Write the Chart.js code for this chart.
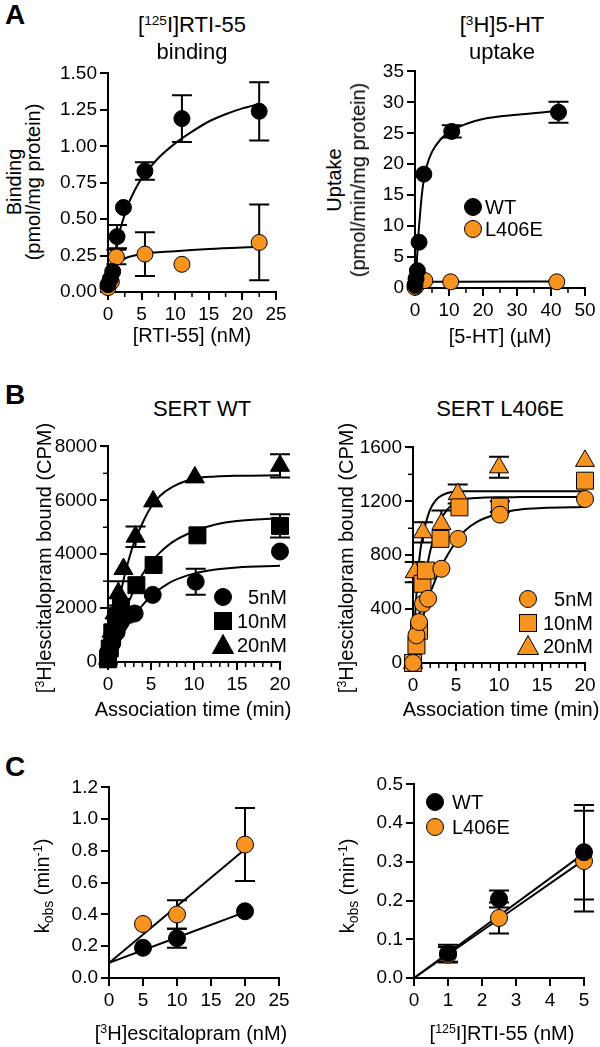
<!DOCTYPE html>
<html>
<head>
<meta charset="utf-8">
<script src="https://cdn.jsdelivr.net/npm/chart.js@4"></script>
<style>
body{margin:0;width:600px;height:1047px;position:relative;overflow:hidden;background:#fff;font-family:"Liberation Sans",Arial,sans-serif;color:#000}
canvas{position:absolute}
.t{position:absolute;white-space:nowrap;line-height:1;z-index:2}
sup{font-size:0.62em;vertical-align:0.55em;line-height:0}
sub{font-size:0.7em;vertical-align:-0.25em;line-height:0}
svg{position:absolute;z-index:2}
</style>
</head>
<body>
<script>
// ---- A: [125I]RTI-55 binding
var bindWtX = [0, 0.35, 0.7, 1.35, 2.3, 5.5, 11, 22.5];
var bindWtY = [0.05, 0.09, 0.14, 0.38, 0.58, 0.83, 1.19, 1.24];
var bindWtErr = [0, 0, 0, 0.08, 0, 0.06, 0.16, 0.2];
var bindMutX = [0, 0.5, 1.25, 5.5, 11, 22.5];
var bindMutY = [0.03, 0.07, 0.24, 0.26, 0.19, 0.34];
var bindMutErr = [0, 0, 0.05, 0.15, 0, 0.26];
var bindWtFitX = [0, 0.5, 1, 1.5, 2, 3, 4, 5, 6, 7.5, 10, 12.5, 15, 17.5, 20, 22.5];
var bindWtFitY = [0, 0.12, 0.26, 0.37, 0.46, 0.6, 0.7, 0.78, 0.84, 0.92, 1.02, 1.1, 1.17, 1.22, 1.26, 1.29];
var bindMutFitX = [0, 0.5, 1, 1.5, 2.5, 5, 10, 15, 22.5];
var bindMutFitY = [0, 0.1, 0.17, 0.2, 0.23, 0.26, 0.28, 0.295, 0.31];

// ---- A: [3H]5-HT uptake
var upWtX = [0, 0.3, 0.7, 1.2, 2.6, 10.8, 42.2];
var upWtY = [0.5, 1.5, 2.8, 7.4, 18.4, 25.3, 28.4];
var upWtErr = [0, 0, 0, 0, 0, 1.0, 1.7];
var upMutX = [0, 0.3, 0.7, 2.9, 10.5, 41.7];
var upMutY = [0.1, 0.3, 0.6, 1.2, 1.0, 1.0];
var upWtFitX = [0, 0.5, 1, 1.5, 2, 2.6, 3.5, 5, 7.5, 10, 15, 20, 30, 42];
var upWtFitY = [0, 4, 8.5, 12, 15, 17.5, 19.8, 22, 24, 25.2, 26.5, 27.3, 28, 28.6];
var upMutFitX = [0, 0.5, 1, 3, 10, 42];
var upMutFitY = [0, 0.6, 0.85, 1.0, 1.03, 1.05];

// ---- B: SERT WT association
var wt5X = [0, 0.2, 0.5, 1, 1.5, 2.5, 3.1, 5.2, 10.2, 20];
var wt5Y = [100, 350, 700, 1100, 1500, 1750, 1800, 2490, 2980, 4100];
var wt5Err = [0, 0, 0, 0, 0, 0, 0, 0, 480, 0];
var wt10X = [0, 0.2, 0.5, 1, 1.5, 3.3, 5.3, 10.4, 20];
var wt10Y = [100, 500, 1100, 1700, 2050, 2850, 3600, 4700, 5050];
var wt10Err = [0, 0, 0, 0, 0, 0, 0, 0, 430];
var wt20X = [0, 0.1, 0.4, 0.75, 1.2, 1.8, 3.2, 5.25, 10.1, 20];
var wt20Y = [120, 620, 1120, 1800, 2550, 3450, 4650, 5960, 6850, 7280];
var wt20Err = [0, 0, 0, 0, 450, 0, 380, 0, 0, 430];
var fitTimeX = [0, 0.5, 1, 1.5, 2, 3, 4, 5, 6, 7.5, 10, 12.5, 15, 20];
var wt5FitY = [0, 300, 600, 900, 1200, 1700, 2100, 2450, 2700, 3000, 3280, 3430, 3510, 3570];
var wt10FitY = [0, 500, 1000, 1450, 1900, 2650, 3250, 3700, 4050, 4450, 4850, 5100, 5230, 5330];
var wt20FitY = [0, 900, 1800, 2600, 3300, 4400, 5150, 5750, 6150, 6500, 6800, 6880, 6910, 6930];

// ---- B: SERT L406E association
var mut5X = [0, 0.4, 0.7, 1.16, 1.75, 3.3, 5.24, 10.1, 20];
var mut5Y = [0, 205, 304, 440, 477, 699, 921, 1101, 1217];
var mut10X = [0, 0.4, 0.7, 1.1, 1.5, 3.2, 5.4, 10.1, 20];
var mut10Y = [0, 130, 240, 588, 686, 921, 1155, 1160, 1353];
var mut10Err = [0, 0, 0, 0, 0, 0, 0, 40, 0];
var mut20X = [0, 0.2, 1.15, 3.3, 5.2, 10, 20];
var mut20Y = [0, 674, 970, 1032, 1254, 1452, 1500];
var mut20Err = [0, 75, 75, 100, 70, 78, 0];
var mutFitX = [0, 0.25, 0.5, 0.75, 1, 1.5, 2, 2.5, 3, 4, 5, 6, 7.5, 10, 12.5, 15, 20];
var mut5FitY = [0, 80, 160, 230, 300, 420, 520, 600, 680, 800, 900, 980, 1050, 1110, 1140, 1150, 1157];
var mut10FitY = [0, 130, 250, 370, 480, 670, 830, 950, 1040, 1140, 1195, 1215, 1225, 1230, 1231, 1232, 1232];
var mut20FitY = [0, 350, 600, 780, 900, 1040, 1140, 1195, 1230, 1262, 1272, 1274, 1275, 1275, 1275, 1275, 1275];

// ---- C: kobs vs [3H]escitalopram
var konEscX = [5, 10, 20];
var konEscWtY = [0.19, 0.25, 0.42];
var konEscWtErr = [0, 0.06, 0];
var konEscMutY = [0.34, 0.40, 0.84];
var konEscMutErr = [0, 0.09, 0.23];
var konEscFitX = [0, 20];
var konEscWtFitY = [0.095, 0.415];
var konEscMutFitY = [0.095, 0.81];

// ---- C: kobs vs [125I]RTI-55
var konRtiX = [1, 2.5, 5];
var konRtiWtY = [0.064, 0.204, 0.325];
var konRtiWtErr = [0.022, 0.022, 0.122];
var konRtiMutY = [0.06, 0.155, 0.302];
var konRtiMutErr = [0.02, 0.04, 0.13];
var konRtiFitX = [0, 5];
var konRtiWtFitY = [0, 0.322];
var konRtiMutFitY = [0, 0.305];

var ORANGE = '#F7931E';
var FONT = '"Liberation Sans", Arial, sans-serif';

function pts(xs, ys) {
    return xs.map(function (x, i) { return { x: x, y: ys[i] }; });
}
function marks(xs, ys, errs, style, fill, r, order) {
    return {
        data: pts(xs, ys), errs: errs, pointStyle: style, pointRadius: r, pointHoverRadius: r,
        backgroundColor: fill, borderColor: '#000', borderWidth: 1, showLine: false, clip: false, order: order
    };
}
function fit(xs, ys) {
    return {
        data: pts(xs, ys), showLine: true, pointRadius: 0, borderColor: '#000', borderWidth: 2,
        cubicInterpolationMode: 'monotone', fill: false, clip: false, order: 10
    };
}

// error bars drawn under the markers
var errorBars = {
    id: 'errorBars',
    beforeDatasetsDraw: function (chart) {
        var ctx = chart.ctx, xs = chart.scales.x, ys = chart.scales.y;
        ctx.save();
        ctx.strokeStyle = '#000';
        ctx.lineWidth = 2;
        chart.data.datasets.forEach(function (ds) {
            if (!ds.errs) return;
            ds.data.forEach(function (p, j) {
                var e = ds.errs[j];
                if (!e) return;
                var x = xs.getPixelForValue(p.x);
                var y1 = ys.getPixelForValue(p.y - e), y2 = ys.getPixelForValue(p.y + e);
                ctx.beginPath();
                ctx.moveTo(x, y1); ctx.lineTo(x, y2);
                ctx.moveTo(x - 10, y1); ctx.lineTo(x + 10, y1);
                ctx.moveTo(x - 10, y2); ctx.lineTo(x + 10, y2);
                ctx.stroke();
            });
        });
        ctx.restore();
    }
};

function minorTicks(mx, my) {
    return {
        id: 'minorTicks',
        beforeDatasetsDraw: function (chart) {
            var ctx = chart.ctx, a = chart.chartArea;
            ctx.save();
            ctx.strokeStyle = '#000';
            ctx.lineWidth = 1.5;
            [['x', mx], ['y', my]].forEach(function (k) {
                if (!k[1]) return;
                var s = chart.scales[k[0]];
                for (var v = s.min; v <= s.max + 1e-9; v += k[1]) {
                    var p = s.getPixelForValue(v);
                    ctx.beginPath();
                    if (k[0] === 'x') { ctx.moveTo(p, a.bottom); ctx.lineTo(p, a.bottom + 5); }
                    else { ctx.moveTo(a.left, p); ctx.lineTo(a.left - 5, p); }
                    ctx.stroke();
                }
            });
            ctx.restore();
        }
    };
}

var YW = 64, XH = 46, PT = 14, PR = 20;

function axis(o) {
    return {
        type: 'linear', min: o.min, max: o.max,
        afterFit: function (s) { if (s.isHorizontal()) s.height = XH; else s.width = YW; },
        border: { display: true, color: '#000', width: 2 },
        grid: { drawOnChartArea: false, drawTicks: true, tickLength: 8, lineWidth: 2, color: '#000' },
        ticks: {
            stepSize: o.step, autoSkip: false, maxRotation: 0, padding: 3, color: '#000',
            font: { family: FONT, size: 19 },
            callback: function (v) { return o.dec ? v.toFixed(o.dec) : String(v); }
        }
    };
}

// area = plot box [left, top, right, bottom] in page pixels
function panel(area, datasets, xo, yo) {
    var cv = document.createElement('canvas');
    var w = area[2] - area[0] + YW + PR, h = area[3] - area[1] + PT + XH;
    cv.width = w; cv.height = h;
    cv.style.left = (area[0] - YW) + 'px';
    cv.style.top = (area[1] - PT) + 'px';
    document.body.appendChild(cv);
    return new Chart(cv, {
        type: 'scatter',
        data: { datasets: datasets },
        options: {
            responsive: false, animation: false, devicePixelRatio: 1,
            layout: { padding: { top: PT, right: PR, left: 0, bottom: 0 } },
            plugins: { legend: { display: false }, tooltip: { enabled: false } },
            scales: { x: axis(xo), y: axis(yo) }
        },
        plugins: [errorBars, minorTicks(xo.minor, yo.minor)]
    });
}

function txt(html, x, y, size, mode, bold) {
    var d = document.createElement('div');
    d.className = 't';
    d.innerHTML = html;
    d.style.left = x + 'px';
    d.style.top = y + 'px';
    d.style.fontSize = size + 'px';
    if (bold) d.style.fontWeight = 'bold';
    var tr = { c: 'translate(-50%,-50%)', l: 'translate(0,-50%)', r: 'translate(-100%,-50%)', v: 'translate(-50%,-50%) rotate(-90deg)' };
    d.style.transform = tr[mode || 'c'];
    document.body.appendChild(d);
}

function mark(shape, fill, cx, cy) {
    var inner;
    if (shape === 'circle') inner = '<circle cx="12" cy="12" r="8.5"/>';
    else if (shape === 'rect') inner = '<rect x="3.5" y="3.5" width="17" height="17"/>';
    else inner = '<polygon points="12,1.5 22.5,20.5 1.5,20.5"/>';
    var s = '<svg width="24" height="24" style="left:' + (cx - 12) + 'px;top:' + (cy - 12) + 'px">' +
        '<g fill="' + fill + '" stroke="#000" stroke-width="1">' + inner + '</g></svg>';
    document.body.insertAdjacentHTML('beforeend', s);
}

// ---------- panels
panel([108, 73, 276, 292], [
    marks(bindWtX, bindWtY, bindWtErr, 'circle', '#000', 8, 0),
    marks(bindMutX, bindMutY, bindMutErr, 'circle', ORANGE, 8, 1),
    fit(bindWtFitX, bindWtFitY),
    fit(bindMutFitX, bindMutFitY)
], { min: 0, max: 25, step: 5, minor: 2.5 }, { min: 0, max: 1.5, step: 0.25, dec: 2 });

panel([415, 71, 585, 288], [
    marks(upWtX, upWtY, upWtErr, 'circle', '#000', 8, 0),
    marks(upMutX, upMutY, null, 'circle', ORANGE, 8, 1),
    fit(upWtFitX, upWtFitY),
    fit(upMutFitX, upMutFitY)
], { min: 0, max: 50, step: 10, minor: 5 }, { min: 0, max: 35, step: 5 });

panel([108, 446, 280, 662], [
    marks(wt5X, wt5Y, wt5Err, 'circle', '#000', 8.5, 0),
    marks(wt10X, wt10Y, wt10Err, 'rect', '#000', 12, 1),
    marks(wt20X, wt20Y, wt20Err, 'triangle', '#000', 11, 2),
    fit(fitTimeX, wt5FitY),
    fit(fitTimeX, wt10FitY),
    fit(fitTimeX, wt20FitY)
], { min: 0, max: 20, step: 5, minor: 1 }, { min: 0, max: 8000, step: 2000, minor: 1000 });

panel([413, 447, 585, 663], [
    marks(mut5X, mut5Y, null, 'circle', ORANGE, 8.5, 0),
    marks(mut10X, mut10Y, mut10Err, 'rect', ORANGE, 12, 1),
    marks(mut20X, mut20Y, mut20Err, 'triangle', ORANGE, 11, 2),
    fit(mutFitX, mut5FitY),
    fit(mutFitX, mut10FitY),
    fit(mutFitX, mut20FitY)
], { min: 0, max: 20, step: 5, minor: 1 }, { min: 0, max: 1600, step: 400, minor: 200 });

panel([109, 787, 279, 978], [
    marks(konEscX, konEscWtY, konEscWtErr, 'circle', '#000', 8.5, 0),
    marks(konEscX, konEscMutY, konEscMutErr, 'circle', ORANGE, 8.5, 1),
    fit(konEscFitX, konEscWtFitY),
    fit(konEscFitX, konEscMutFitY)
], { min: 0, max: 25, step: 5 }, { min: 0, max: 1.2, step: 0.2, dec: 1 });

panel([414, 784, 584, 978], [
    marks(konRtiX, konRtiWtY, konRtiWtErr, 'circle', '#000', 8.5, 0),
    marks(konRtiX, konRtiMutY, konRtiMutErr, 'circle', ORANGE, 8.5, 1),
    fit(konRtiFitX, konRtiWtFitY),
    fit(konRtiFitX, konRtiMutFitY)
], { min: 0, max: 5, step: 1 }, { min: 0, max: 0.5, step: 0.1, dec: 1 });

// ---------- text
txt('A', 15, 15, 28, 'c', true);
txt('[<sup>125</sup>I]RTI-55', 192, 25, 22);
txt('binding', 192, 52, 22);
txt('[<sup>3</sup>H]5-HT', 502, 25, 22);
txt('uptake', 502, 52, 22);
txt('Binding', 14, 182, 20, 'v');
txt('(pmol/mg protein)', 33, 182, 20, 'v');
txt('Uptake', 334, 180, 20, 'v');
txt('(pmol/min/mg protein)', 358, 180, 20, 'v');
txt('[RTI-55] (nM)', 192, 335, 20);
txt('[5-HT] (\u00b5M)', 500, 336, 20);
mark('circle', '#000', 473, 207); txt('WT', 485, 207, 20, 'l');
mark('circle', ORANGE, 473, 229); txt('L406E', 485, 229, 20, 'l');

txt('B', 15, 395, 28, 'c', true);
txt('SERT WT', 202, 409, 22);
txt('SERT L406E', 500, 409, 22);
txt('[<sup>3</sup>H]escitalopram bound (CPM)', 44, 558, 20, 'v');
txt('[<sup>3</sup>H]escitalopram bound (CPM)', 346, 558, 20, 'v');
txt('Association time (min)', 193, 709, 20);
txt('Association time (min)', 501, 709, 20);
mark('circle', '#000', 223, 597); txt('5nM', 287, 597, 20, 'r');
mark('rect', '#000', 223, 621); txt('10nM', 287, 621, 20, 'r');
mark('triangle', '#000', 223, 645); txt('20nM', 287, 645, 20, 'r');
mark('circle', ORANGE, 528, 599); txt('5nM', 593, 599, 20, 'r');
mark('rect', ORANGE, 528, 623); txt('10nM', 593, 623, 20, 'r');
mark('triangle', ORANGE, 528, 646); txt('20nM', 593, 646, 20, 'r');

txt('C', 15, 767, 28, 'c', true);
txt('k<sub>obs</sub> (min<sup>-1</sup>)', 42, 886, 20, 'v');
txt('k<sub>obs</sub> (min<sup>-1</sup>)', 347, 886, 20, 'v');
txt('[<sup>3</sup>H]escitalopram (nM)', 191, 1033, 20);
txt('[<sup>125</sup>I]RTI-55 (nM)', 502, 1033, 20);
mark('circle', '#000', 435, 802); txt('WT', 452, 802, 20, 'l');
mark('circle', ORANGE, 435, 827); txt('L406E', 452, 827, 20, 'l');
</script>
</body>
</html>
